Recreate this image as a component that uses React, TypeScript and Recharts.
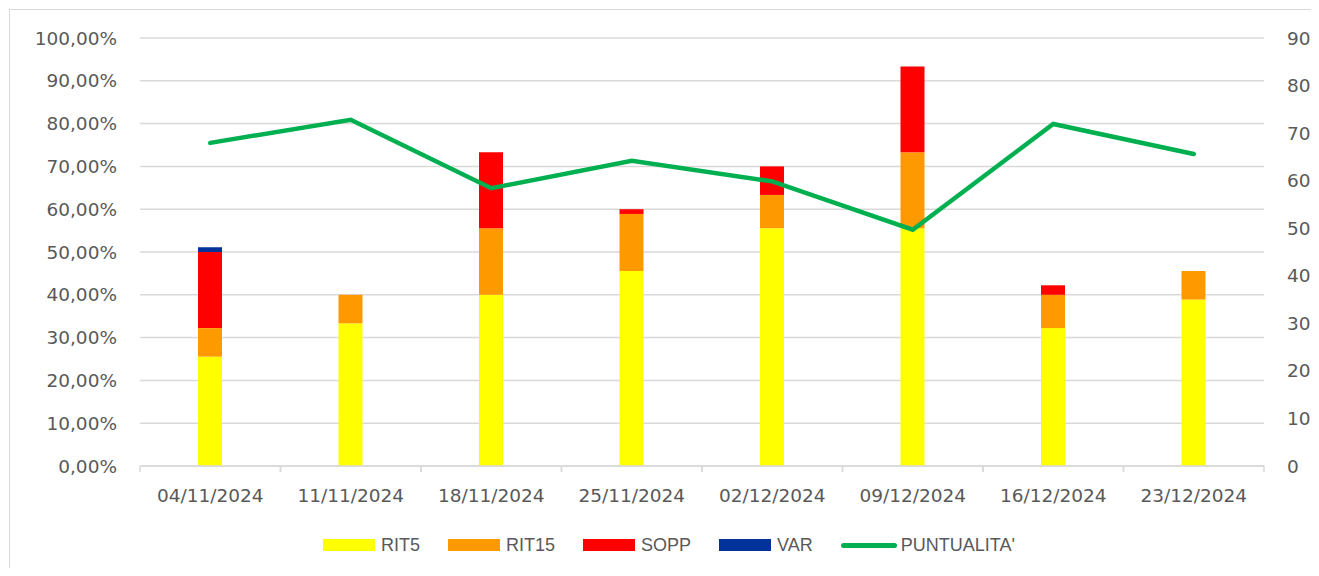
import { Bar, CartesianGrid, ComposedChart, Legend, Line, XAxis, YAxis } from 'recharts';

const dates = ['04/11/2024', '11/11/2024', '18/11/2024', '25/11/2024', '02/12/2024', '09/12/2024', '16/12/2024', '23/12/2024'];
const rit5 = [23, 30, 36, 41, 50, 50, 29, 35];
const rit15 = [6, 6, 14, 12, 7, 16, 7, 6];
const sopp = [16, 0, 16, 1, 6, 18, 2, 0];
const varCount = [1, 0, 0, 0, 0, 0, 0, 0];
const puntualita = [0.755, 0.809, 0.649, 0.713, 0.665, 0.552, 0.799, 0.729];

const pctTicks = [0, 0.1, 0.2, 0.3, 0.4, 0.5, 0.6, 0.7, 0.8, 0.9, 1];
const countTicks = [0, 10, 20, 30, 40, 50, 60, 70, 80, 90];
const legendOrder = ['RIT5', 'RIT15', 'SOPP', 'VAR', "PUNTUALITA'"];

const data = dates.map((d, i) => ({
  date: d,
  RIT5: rit5[i],
  RIT15: rit15[i],
  SOPP: sopp[i],
  VAR: varCount[i],
  PUNTUALITA: puntualita[i],
}));

const tickFont = { fontFamily: '"DejaVu Sans", sans-serif', fontSize: 18.5, fill: '#595959' };
const gridColor = '#d9d9d9';

const pctLabel = (v: number) => `${(v * 100).toFixed(2).replace('.', ',')}%`;

// category label with the little separator marks on band edges
function DateTick(props: any) {
  const { x, y, payload } = props;
  const half = payload?.offset ?? 0;
  return (
    <g>
      <line x1={x - half} x2={x - half} y1={y} y2={y + 6} stroke={gridColor} strokeWidth={1.5} />
      <line x1={x + half} x2={x + half} y1={y} y2={y + 6} stroke={gridColor} strokeWidth={1.5} />
      <text x={x} y={y + 35.5} textAnchor="middle" {...tickFont}>
        {payload.value}
      </text>
    </g>
  );
}

function LegendBox(props: any) {
  const items = [...(props.payload || [])].sort(
    (a: any, b: any) => legendOrder.indexOf(a.value) - legendOrder.indexOf(b.value)
  );
  return (
    <div
      style={{
        height: 62,
        boxSizing: 'border-box',
        paddingTop: 16,
        paddingLeft: 315,
        display: 'flex',
        alignItems: 'center',
        fontFamily: '"Liberation Sans", Arial, sans-serif',
        fontSize: 18,
        color: '#595959',
      }}
    >
      {items.map((it: any) => (
        <div key={it.value} style={{ display: 'flex', alignItems: 'center', marginRight: 28 }}>
          {it.type === 'line' ? (
            <div style={{ width: 56, height: 5, borderRadius: 3, background: it.color, marginRight: 4 }} />
          ) : (
            <div style={{ width: 52, height: 12, background: it.color, marginRight: 6 }} />
          )}
          <span>{it.value}</span>
        </div>
      ))}
    </div>
  );
}

export default function App() {
  return (
    <div style={{ position: 'relative', width: 1303, height: 560, overflow: 'hidden' }}>
      <div
        style={{
          position: 'absolute',
          left: 1,
          top: 1,
          width: 1400,
          height: 700,
          border: `1px solid ${gridColor}`,
        }}
      />
      <div style={{ position: 'absolute', left: 0, top: 0 }}>
        <ComposedChart width={1303} height={560} data={data} margin={{ top: 30, right: 0, bottom: 0, left: 0 }}>
          <CartesianGrid yAxisId="left" vertical={false} stroke={gridColor} strokeWidth={1.5} />
          <XAxis
            dataKey="date"
            height={40}
            tickSize={0}
            tickMargin={0}
            tickLine={false}
            stroke={gridColor}
            strokeWidth={1.5}
            tick={<DateTick />}
            interval={0}
          />
          <YAxis
            yAxisId="left"
            width={132}
            domain={[0, 1]}
            ticks={pctTicks}
            tickFormatter={pctLabel}
            axisLine={false}
            tickLine={false}
            tickSize={0}
            tickMargin={23}
            tick={tickFont}
          />
          <YAxis
            yAxisId="right"
            orientation="right"
            width={47}
            domain={[0, 90]}
            ticks={countTicks}
            axisLine={false}
            tickLine={false}
            tickSize={0}
            tickMargin={23}
            tick={tickFont}
          />
          <Legend verticalAlign="bottom" content={<LegendBox />} />
          <Bar yAxisId="right" dataKey="RIT5" stackId="a" fill="#ffff00" barSize={24} isAnimationActive={false} />
          <Bar yAxisId="right" dataKey="RIT15" stackId="a" fill="#ff9900" barSize={24} isAnimationActive={false} />
          <Bar yAxisId="right" dataKey="SOPP" stackId="a" fill="#ff0000" barSize={24} isAnimationActive={false} />
          <Bar yAxisId="right" dataKey="VAR" stackId="a" fill="#003399" barSize={24} isAnimationActive={false} />
          <Line
            yAxisId="left"
            dataKey="PUNTUALITA"
            name="PUNTUALITA'"
            stroke="#00b050"
            strokeWidth={4.5}
            strokeLinecap="round"
            dot={false}
            activeDot={false}
            isAnimationActive={false}
          />
        </ComposedChart>
      </div>
    </div>
  );
}
